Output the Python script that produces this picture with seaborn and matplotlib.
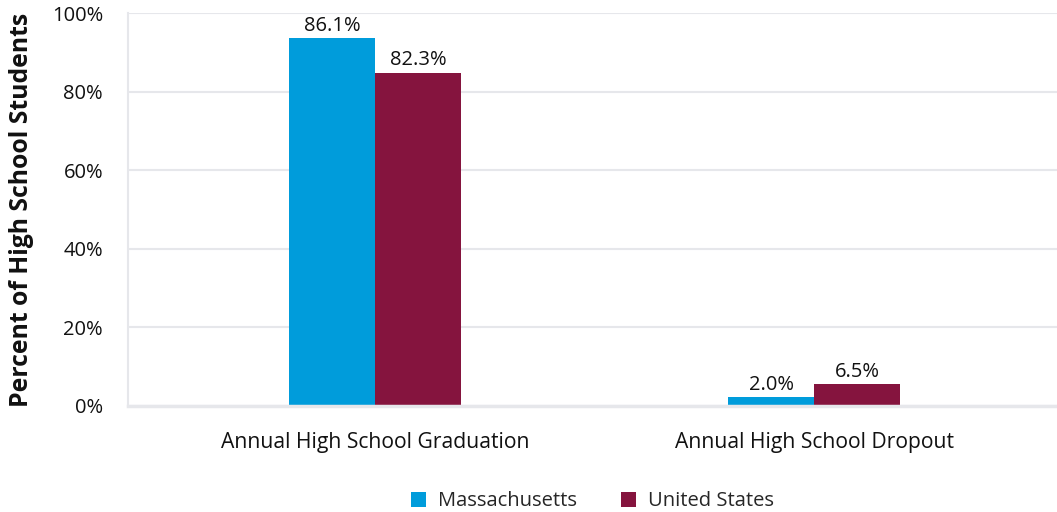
import matplotlib
matplotlib.use("Agg")
import matplotlib.pyplot as plt
import seaborn as sns
import pandas as pd

categories = ["Annual High School Graduation", "Annual High School Dropout"]
series = ["Massachusetts", "United States"]
ma_values = [93.6, 2.1]
us_values = [84.9, 5.5]
ma_labels = ["86.1%", "2.0%"]
us_labels = ["82.3%", "6.5%"]
yticks = [0, 20, 40, 60, 80, 100]
ytick_labels = ["0%", "20%", "40%", "60%", "80%", "100%"]
colors = ["#009CDB", "#85143E"]

df = pd.DataFrame({
    "category": categories * 2,
    "series": [series[0]] * 2 + [series[1]] * 2,
    "value": ma_values + us_values,
})

sns.set_theme(style="white")
plt.rcParams["font.family"] = ["Open Sans", "DejaVu Sans"]

fig = plt.figure(figsize=(10.57, 5.12), dpi=100)
ax = fig.add_axes([0.1211, 0.2078, 0.8789, 0.7662])

sns.barplot(data=df, x="category", y="value", hue="series", order=categories,
            hue_order=series, palette=colors, width=0.392, saturation=1,
            linewidth=0, ax=ax, legend=True)

for container, labels in zip(ax.containers, [ma_labels, us_labels]):
    ax.bar_label(container, labels=labels, padding=1.5, fontsize=14.5, color="#111111")

ax.set_ylim(0, 100)
ax.set_xlim(-0.5626, 1.553)
ax.set_yticks(yticks)
ax.set_yticklabels(ytick_labels, fontsize=14.5, color="#111111")
ax.tick_params(axis="y", length=10, width=1.5, color="#E6E7EB", pad=8)
ax.tick_params(axis="x", length=0, labelsize=15.2, pad=19, labelcolor="#111111")
ax.yaxis.grid(True, color="#E6E7EB", linewidth=1.5)
ax.set_axisbelow(True)
for s in ["top", "right"]:
    ax.spines[s].set_visible(False)
ax.spines["left"].set_color("#E6E7EB")
ax.spines["left"].set_linewidth(1.5)
ax.spines["bottom"].set_color("#E6E7EB")
ax.spines["bottom"].set_linewidth(2.5)
ax.set_xlabel("")
ax.set_ylabel("Percent of High School Students", fontsize=17.8, fontweight="bold",
              color="#111111")
ax.yaxis.set_label_coords(-0.101, 0.5)

leg = ax.legend(loc="upper center", bbox_to_anchor=(0.5, -0.172), ncol=2, frameon=False,
                fontsize=14.5, handlelength=0.75, handleheight=0.75, columnspacing=2.2,
                handletextpad=0.6)

fig.savefig("out.png", dpi=100)
